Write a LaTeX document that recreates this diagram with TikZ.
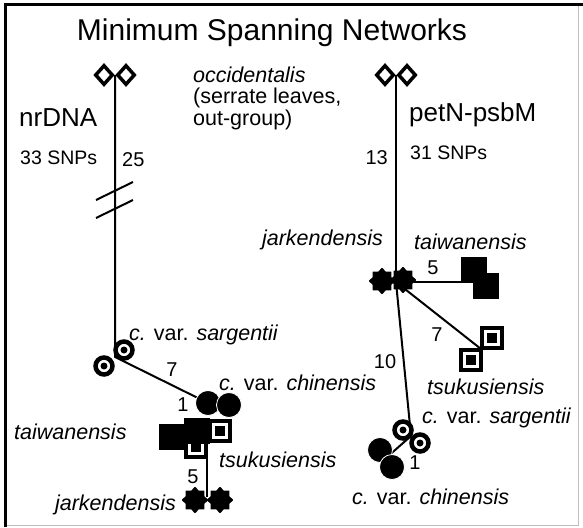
\documentclass[tikz,border=0pt]{standalone}
\usepackage{fontspec}
\setmainfont{Liberation Sans}
\usetikzlibrary{shapes.geometric,positioning}
\newcommand\cvar[1]{\textit{c.} var. \textit{#1}}

\begin{document}
\begin{tikzpicture}[
 x=1pt,y=-1pt,
 link/.style={line width=2pt},
 outg/.style={diamond,draw,line width=3.5pt,fill=white,minimum width=18pt,minimum height=20pt,inner sep=0pt},
 sarg/.style={circle,draw,line width=4.5pt,fill=white,minimum size=17pt,inner sep=0pt,path picture={\fill[black] (path picture bounding box.center) circle (3.5pt);}},
 chin/.style={circle,fill,draw=white,line width=0.8pt,minimum size=25pt,inner sep=0pt},
 taiw/.style={rectangle,fill,minimum size=26pt,inner sep=0pt},
 tsuk/.style={rectangle,fill,minimum size=24pt,inner sep=0pt,path picture={\draw[white,line width=2.6pt] ([shift={(-6.5pt,-6.5pt)}]path picture bounding box.center) rectangle ([shift={(6.5pt,6.5pt)}]path picture bounding box.center);}},
 jark/.style={star,star points=8,star point ratio=1.35,fill,draw,line width=2pt,line join=round,minimum size=24pt,inner sep=0pt},
 lab/.style={inner sep=0pt,font=\fontsize{21.5}{21.5}\selectfont},
 num/.style={inner sep=0pt,font=\fontsize{20}{20}\selectfont},
 gene/.style={inner sep=0pt,font=\fontsize{26}{26}\selectfont},
 snps/.style={inner sep=0pt,font=\fontsize{19.5}{19.5}\selectfont},
]
\useasboundingbox (0,0) rectangle (583,527);
\fill[white] (0,0) rectangle (583,527);
\draw[gray!50,line width=1pt] (578,5) -- (578,525) -- (5,525);
\draw[line width=3pt] (5,527) -- (5,5) -- (583,5);

\node[inner sep=0pt,font=\fontsize{30}{30}\selectfont] (title) at (272,33) {Minimum Spanning Networks};

\coordinate (ldj) at (115,75);
\coordinate (lsj) at (115,357);
\coordinate (lcj) at (208,403);
\coordinate (lkd) at (196,447);
\coordinate (ljj) at (207,497);
\coordinate (rdj) at (396,75);
\coordinate (rjj) at (396,282);
\coordinate (rtj) at (480,278);
\coordinate (rkj) at (481,349);
\coordinate (rsj) at (411,436);
\coordinate (rcj) at (386,458);

\draw[link] (ldj) -- (lsj) -- (lcj);
\draw[link] (ljj) -- (ljj |- lkd);
\foreach \y in {191,209}
  \draw[link] (96,\y+9) -- (133,\y-9);
\draw[link] (rdj) -- (rjj);
\draw[link] (rjj) -- (rjj -| rtj);
\draw[link] (rjj) -- (rkj);
\draw[link] (rjj) -- (rsj) -- (rcj);

\node[outg] (ldA) at (104,75) {};
\node[outg] (ldB) at (126,75) {};
\node[sarg] (lsA) at (104,366) {};
\node[sarg] (lsB) at (124,350) {};
\node[tsuk] (lkD) at (lkd) {};
\node[taiw] (ltA) at (172,437) {};
\node[taiw] (ltB) at (197,431) {};
\node[tsuk] (lkC) at (220,431) {};
\node[chin] (lcA) at (lcj) {};
\node[chin] (lcB) at (229,405) {};
\node[jark] (ljA) at (195,500) {};
\node[jark] (ljB) at (220,500) {};

\node[outg] (rdA) at (385,75) {};
\node[outg] (rdB) at (407,75) {};
\node[jark] (rjA) at (382,281) {};
\node[jark] (rjB) at (403,280) {};
\node[taiw] (rtA) at (474,270) {};
\node[taiw] (rtB) at (486,286) {};
\node[tsuk] (rkA) at (492,338) {};
\node[tsuk] (rkB) at (471,360) {};
\node[sarg] (rsA) at (403,430) {};
\node[sarg] (rsB) at (420,443) {};
\node[chin] (rcA) at (380,450) {};
\node[chin] (rcB) at (392,467) {};

\node[lab,anchor=west,align=left] (outl) at (193,98) {\textit{occidentalis}\\(serrate leaves,\\out-group)};

\node[gene,anchor=west] (nr) at (19,118) {nrDNA};
\node[snps,anchor=west] (nrs) at (20,158) {33 SNPs};
\node[num,anchor=west] (n25) at (122,160) {25};
\node[lab,anchor=west] (lsl) at (129,335) {\cvar{sargentii}};
\node[num] (n7l) at (172,370) {7};
\node[lab,anchor=west] (lcl) at (219,383) {\cvar{chinensis}};
\node[num] (n1l) at (183,405) {1};
\node[lab,anchor=west] (ltl) at (14,432) {\textit{taiwanensis}};
\node[lab,anchor=west] (lkl) at (219,460) {\textit{tsukusiensis}};
\node[num] (n5l) at (193,477) {5};
\node[lab,anchor=east] (ljl) at (176,505) {\textit{jarkendensis}};

\node[gene,anchor=west] (pp) at (409,115) {petN-psbM};
\node[snps,anchor=west] (pps) at (410,153) {31 SNPs};
\node[num,anchor=east] (n13) at (388,158) {13};
\node[lab,anchor=east] (rjl) at (383,240) {\textit{jarkendensis}};
\node[lab,anchor=west] (rtl) at (414,242) {\textit{taiwanensis}};
\node[num] (n5r) at (433,268) {5};
\node[num] (n7r) at (437,335) {7};
\node[num] (n10) at (385,362) {10};
\node[lab,anchor=west] (rkl) at (427,387) {\textit{tsukusiensis}};
\node[lab,anchor=west] (rsl) at (422,418) {\cvar{sargentii}};
\node[num] (n1r) at (415,463) {1};
\node[lab,anchor=west] (rcl) at (352,497) {\cvar{chinensis}};
\end{tikzpicture}
\end{document}
